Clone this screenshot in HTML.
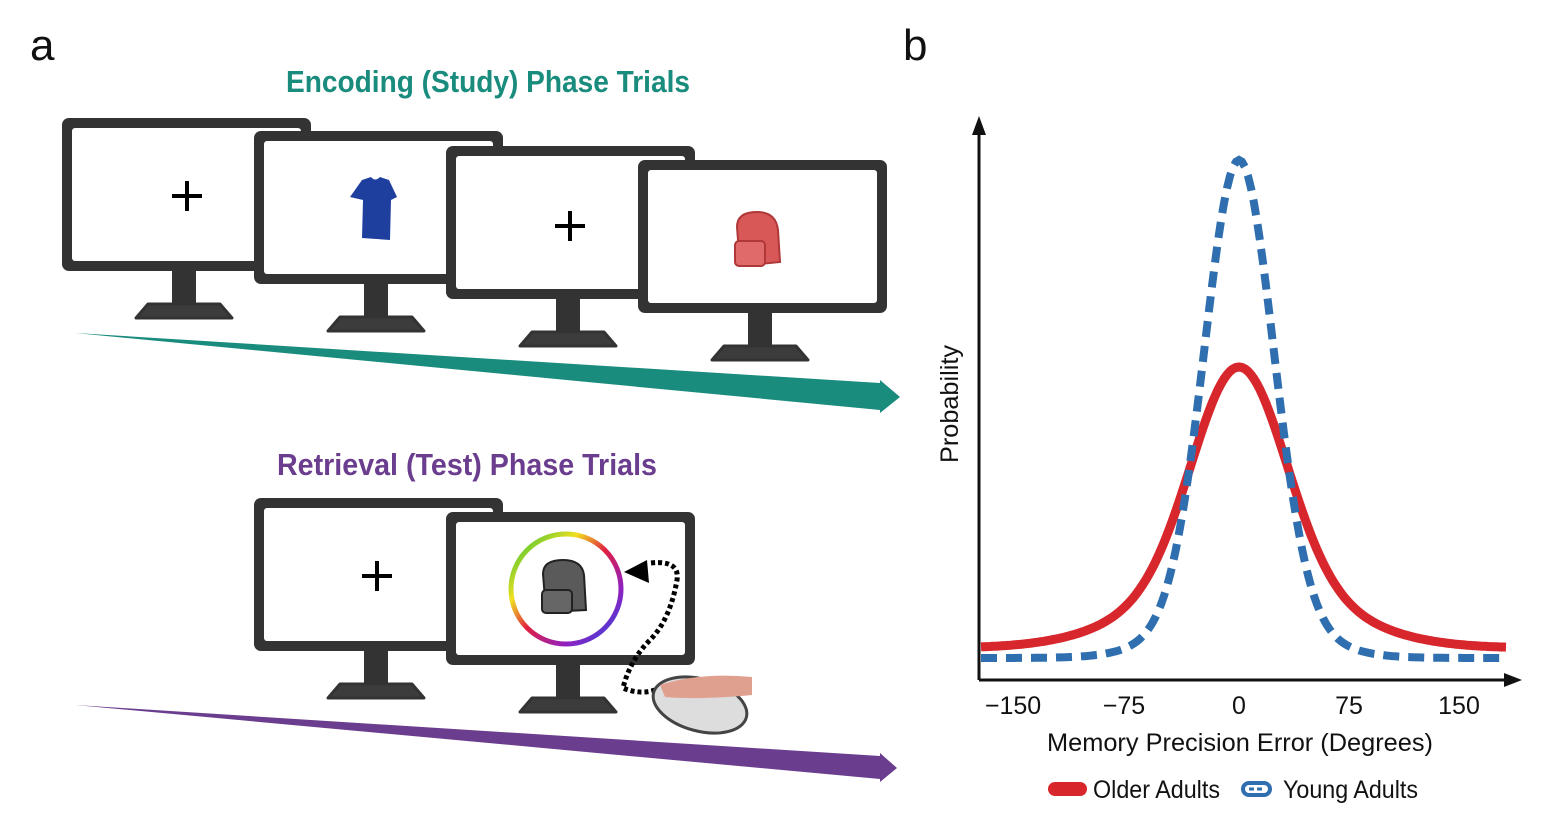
<!DOCTYPE html>
<html><head><meta charset="utf-8"><style>
html,body{margin:0;padding:0;background:#fff;}
svg{display:block;}
text{font-family:"Liberation Sans Narrow","Liberation Sans",sans-serif;}
</style></head><body>
<svg id="s" width="1566" height="826" viewBox="0 0 1566 826" xmlns="http://www.w3.org/2000/svg">
<defs>
<g id="mon">
<polygon points="86,186 158,186 170,200 74,200" fill="#3c3c3c" stroke="#333" stroke-width="3" stroke-linejoin="round"/>
<rect x="110" y="150" width="24" height="37" fill="#333"/>
<rect x="0" y="0" width="249" height="153" rx="7" fill="#333"/>
<rect x="10" y="10" width="229" height="133" rx="3" fill="#fff"/>
</g>
<linearGradient id="rb" x1="0" y1="0" x2="1" y2="1">
<stop offset="0" stop-color="#22c03a"/><stop offset="0.3" stop-color="#f0e020"/><stop offset="0.5" stop-color="#e02040"/><stop offset="0.75" stop-color="#9020c0"/><stop offset="1" stop-color="#2050e0"/>
</linearGradient>
</defs>
<text x="30" y="60" font-size="44" font-family="Liberation Sans" fill="#111">a</text>
<text x="903" y="60" font-size="44" font-family="Liberation Sans" fill="#111">b</text>
<text x="488" y="92" font-size="31" font-weight="bold" fill="#1a8c7d" text-anchor="middle" textLength="404" lengthAdjust="spacingAndGlyphs">Encoding (Study) Phase Trials</text>
<text x="467" y="475" font-size="31" font-weight="bold" fill="#6b3d8e" text-anchor="middle" textLength="380" lengthAdjust="spacingAndGlyphs">Retrieval (Test) Phase Trials</text>

<use href="#mon" x="62" y="118"/>
<use href="#mon" x="254" y="131"/>
<use href="#mon" x="446" y="146"/>
<use href="#mon" x="638" y="160"/>
<g stroke="#000" stroke-width="4">
<line x1="172" y1="196" x2="202" y2="196"/><line x1="187" y1="181" x2="187" y2="211"/>
<line x1="555" y1="226" x2="585" y2="226"/><line x1="570" y1="211" x2="570" y2="241"/>
</g>
<path d="M362,180 L371,177 Q375,182 380,177 L389,180 L397,197 L391,200 L390,240 L362,238 L363,200 L350,197 Z" fill="#1f3f9f"/>
<path d="M737,227 Q737,212 757,212 Q776,212 778,230 L780,262 L740,266 Z" fill="#d85858" stroke="#b03838" stroke-width="2"/>
<rect x="735" y="241" width="30" height="25" rx="4" fill="#e06a6a" stroke="#b03838" stroke-width="2"/>
<polygon points="75,333 880,383 880,380 900,397 880,413 880,410" fill="#1a8c7d"/>

<use href="#mon" x="254" y="498"/>
<use href="#mon" x="446" y="512"/>
<g stroke="#000" stroke-width="4">
<line x1="362" y1="576" x2="392" y2="576"/><line x1="377" y1="561" x2="377" y2="591"/>
</g>
<circle cx="566" cy="589" r="55" fill="none" stroke="url(#rb)" stroke-width="5"/>
<path d="M543,574 Q543,560 563,560 Q582,560 584,575 L586,610 L546,612 Z" fill="#5a5a5a" stroke="#222" stroke-width="2"/>
<rect x="542" y="590" width="30" height="23" rx="4" fill="#666" stroke="#222" stroke-width="2"/>
<polygon points="624,572 647,560 649,583" fill="#000"/>
<path d="M651,563 Q680,560 677,580 Q670,620 650,640 Q630,660 623,688 Q640,695 655,690" fill="none" stroke="#000" stroke-width="5" stroke-dasharray="4,3"/>
<ellipse cx="700" cy="705" rx="48" ry="26" fill="#ddd" stroke="#444" stroke-width="3" transform="rotate(15 700 705)"/>
<path d="M660,685 Q700,672 752,677 L752,695 Q700,700 665,697 Z" fill="#e0a090"/>
<polygon points="75,705 880,756 880,753 897,768 880,782 880,779" fill="#6b3d8e"/>

<g stroke="#111" stroke-width="3" fill="none">
<line x1="979" y1="680" x2="979" y2="128"/>
<line x1="979" y1="680" x2="1510" y2="680"/>
</g>
<polygon points="979,116 972,135 986,135" fill="#111"/>
<polygon points="1522,680 1504,673 1504,687" fill="#111"/>
<path id="red" fill="none" stroke="#d8272c" stroke-width="9" stroke-linejoin="round"/>
<path id="blue" fill="none" stroke="#2f6fb0" stroke-width="8" stroke-dasharray="16,9"/>
<g font-size="25" fill="#111" text-anchor="middle">
<text x="1013" y="714">−150</text><text x="1124" y="714">−75</text><text x="1239" y="714">0</text><text x="1349" y="714">75</text><text x="1459" y="714">150</text>
<text x="1240" y="751" textLength="386" lengthAdjust="spacingAndGlyphs">Memory Precision Error (Degrees)</text>
<text transform="translate(958,404) rotate(-90)" textLength="118" lengthAdjust="spacingAndGlyphs">Probability</text>
</g>
<line x1="1055" y1="789" x2="1080" y2="789" stroke="#d8272c" stroke-width="14" stroke-linecap="round"/>
<text x="1093" y="798" font-size="25" fill="#111" textLength="127" lengthAdjust="spacingAndGlyphs">Older Adults</text>
<rect x="1243" y="783" width="27" height="12" rx="6" fill="none" stroke="#2f6fb0" stroke-width="4"/>
<line x1="1249" y1="789" x2="1265" y2="789" stroke="#2f6fb0" stroke-width="3" stroke-dasharray="5,3"/>
<text x="1283" y="798" font-size="25" fill="#111" textLength="135" lengthAdjust="spacingAndGlyphs">Young Adults</text>
</svg>
<script>
function g(base,peak,s1,s2,w){var d="";for(var x=981;x<=1506;x+=3){var u=x-1239;var f=(1-w)*Math.exp(-u*u/(2*s1*s1))+w*Math.exp(-u*u/(2*s2*s2));var y=base-(base-peak)*f;d+=(d?"L":"M")+x+","+y.toFixed(1);}return d;}
document.getElementById("red").setAttribute("d",g(648,367,46,90,0.25));
document.getElementById("blue").setAttribute("d",g(658,160,34,60,0.1));
</script>
</body></html>
